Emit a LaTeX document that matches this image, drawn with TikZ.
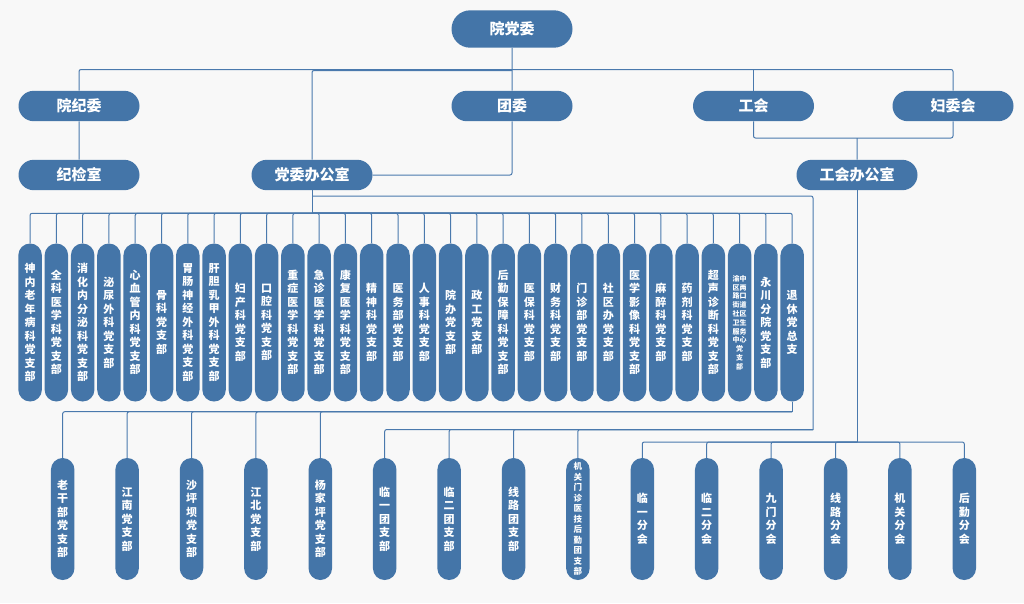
\documentclass[tikz,border=0pt]{standalone}
\usepackage{fontspec}
\setmainfont{Noto Sans CJK SC}
\usepackage{tikz}
\usetikzlibrary{positioning}
\usetikzlibrary{shapes.misc}

\definecolor{pill}{RGB}{68,117,168}
\definecolor{linec}{RGB}{74,121,173}
\definecolor{paper}{RGB}{248,248,248}

\newcommand\vtext[1]{\vbox{\expandafter\vtextA#1\relax}}
\def\vtextA#1{\ifx\relax#1\else\hbox to 1em{\hss#1\hss}\expandafter\vtextA\fi}
\newcommand\yz{\vbox{\fontsize{7}{8.8}\selectfont\halign{\hfil##\hfil\cr 渝中\cr 区两\cr 路口\cr 街道\cr 社区\cr 卫生\cr 服务\cr 中心\cr 党\cr 支\cr 部\cr}}}
\newcommand\jg{{\fontsize{8.5}{10.5}\selectfont\vtext{机关门诊医技后勤团支部}}}

\begin{document}
\begin{tikzpicture}[x=1pt, y=-1pt,
    unit/.style={rounded rectangle, fill=pill, text=white, font=\fontsize{15}{18}\selectfont\bfseries, minimum width=121pt, minimum height=30.4pt, inner sep=0pt},
    branch/.style={rectangle, rounded corners=11.7pt, fill=pill, text=white, font=\fontsize{11}{13.5}\selectfont\bfseries, minimum width=23.5pt, minimum height=158pt, inner sep=0pt},
    leaf/.style={branch, minimum height=122pt},
    link/.style={draw=linec, line width=1pt, rounded corners=2pt}]
    \fill[paper] (0,0) rectangle (1024,603);
    \useasboundingbox (0,0) rectangle (1024,603);

    \node[unit, minimum height=37.4pt] (yuandangwei) at (512,29) {院党委};
    \node[unit] (yuanjiwei) at (79,106) {院纪委};
    \node[unit] (tuanwei) at (512,106) {团委};
    \node[unit] (gonghui) at (753.5,106) {工会};
    \node[unit] (fuweihui) at (953,106) {妇委会};
    \node[unit] (jijianshi) at (79,175) {纪检室};
    \node[unit] (dangban) at (312,175) {党委办公室};
    \node[unit] (gongban) at (857,175) {工会办公室};

    \foreach \t [count=\i] in {神内老年病科党支部,全科医学科党支部,消化内分泌科党支部,泌尿外科党支部,心血管内科党支部,骨科党支部,胃肠神经外科党支部,肝胆乳甲外科党支部,妇产科党支部,口腔科党支部,重症医学科党支部,急诊医学科党支部,康复医学科党支部,精神科党支部,医务部党支部,人事科党支部,院办党支部,政工党支部,后勤保障科党支部,医保科党支部,财务科党支部,门诊部党支部,社区办党支部,医学影像科党支部,麻醉科党支部,药剂科党支部,超声诊断科党支部,\yz,永川分院党支部,退休党总支}
        \node[branch] (b\i) at ({30.1+26.28*(\i-1)},322.5) {\vtext{\t}};

    \foreach \t [count=\i] in {老干部党支部,江南党支部,沙坪坝党支部,江北党支部,杨家坪党支部,临一团支部,临二团支部,线路团支部,\jg,临一分会,临二分会,九门分会,线路分会,机关分会,后勤分会}
        \node[leaf] (c\i) at ({62.7+64.4*(\i-1)},519) {\vtext{\t}};

    \coordinate (topbus) at (512,69.5);
    \draw[link] (yuandangwei) -- (tuanwei);
    \draw[link] (yuanjiwei.north) |- (topbus) -| (fuweihui.north);
    \draw[link] (gonghui.north) -- (gonghui.north |- topbus);
    \draw[link] (dangban.north) |- ([yshift=-1pt]topbus);
    \draw[link] (yuanjiwei) -- (jijianshi);
    \draw[link] (tuanwei.south) |- (dangban.east);
    \coordinate (ghjoin) at (857,138);
    \draw[link] (gonghui.south) |- (ghjoin) -| (fuweihui.south);
    \draw[link] (ghjoin) -- (gongban);

    \coordinate (branchbus) at (312,213.3);
    \draw[link] (dangban.south) -- (branchbus);
    \foreach \i in {1,...,30} \draw[link] (branchbus) -| (b\i.north);

    \coordinate (partybus) at ([yshift=-10pt]b30.south);
    \draw[link] (b30.south) -- (partybus);
    \foreach \i in {1,...,5} \draw[link] (partybus) -| (c\i.north);

    \coordinate (tuanbend) at ([yshift=-5.6pt]dangban.south);
    \coordinate (tuanbus) at (813,429.5);
    \draw[link] (tuanbend) -| (tuanbus);
    \foreach \i in {6,...,9} \draw[link] (tuanbus) -| (c\i.north);

    \coordinate (fenbus) at (857,442);
    \draw[link] (gongban.south) -- (fenbus);
    \foreach \i in {10,...,15} \draw[link] (fenbus) -| (c\i.north);
\end{tikzpicture}
\end{document}
